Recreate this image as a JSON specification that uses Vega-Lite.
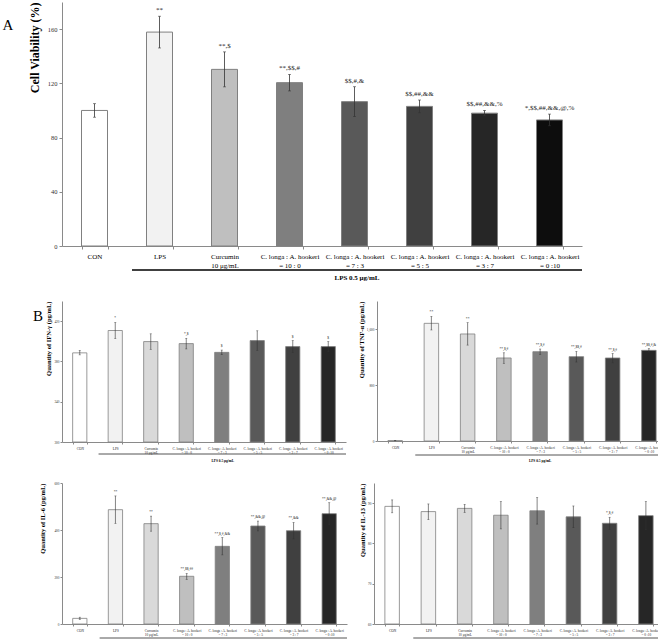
{
  "$schema": "https://vega.github.io/schema/vega-lite/v6.json",
  "padding": {"left": 2, "top": 1, "right": 0, "bottom": 0},
  "background": "white",
  "config": {"view": {"stroke": null}, "font": "Liberation Serif", "axis": {"labelOverlap": false}, "axisY": {"labelOverlap": false}},
  "datasets": {
    "dA": [
      {"g": "CON", "v": 100, "lo": 95, "hi": 105, "s": ""},
      {"g": "LPS", "v": 157.8, "lo": 146.1, "hi": 169.5, "s": "**"},
      {"g": "Curcumin|10 μg/mL", "v": 130.3, "lo": 117.4, "hi": 143.2, "s": "**,$"},
      {"g": "C. longa : A. hookeri|= 10 : 0", "v": 120.5, "lo": 114.4, "hi": 126.6, "s": "**,$$,#"},
      {"g": "C. longa : A. hookeri|= 7 : 3", "v": 106.5, "lo": 95.5, "hi": 117.5, "s": "$$,#,&"},
      {"g": "C. longa : A. hookeri|= 5 : 5", "v": 103, "lo": 98.3, "hi": 107.7, "s": "$$,##,&&"},
      {"g": "C. longa : A. hookeri|= 3 : 7", "v": 98, "lo": 96, "hi": 100, "s": "$$,##,&&,%"},
      {"g": "C. longa : A. hookeri|= 0 :10", "v": 93, "lo": 88.7, "hi": 97.3, "s": "*,$$,##,&&,@,%"}
    ],
    "dIFN": [
      {"g": "CON", "v": 388.5, "lo": 386.5, "hi": 391, "s": ""},
      {"g": "LPS", "v": 410.7, "lo": 402.7, "hi": 418.7, "s": "*"},
      {"g": "Curcumin|10 μg/mL", "v": 399.7, "lo": 392, "hi": 407.4, "s": ""},
      {"g": "C. longa : A. hookeri|= 10 : 0", "v": 397.7, "lo": 392.4, "hi": 403, "s": "*,$"},
      {"g": "C. longa : A. hookeri|= 7 : 3", "v": 389, "lo": 386.7, "hi": 391.3, "s": "$"},
      {"g": "C. longa : A. hookeri|= 5 : 5", "v": 400.7, "lo": 391, "hi": 410.4, "s": ""},
      {"g": "C. longa : A. hookeri|= 3 : 7", "v": 394.7, "lo": 388.7, "hi": 400.7, "s": "$"},
      {"g": "C. longa : A. hookeri|= 0 :10", "v": 394.7, "lo": 389.5, "hi": 399.7, "s": "$"}
    ],
    "dTNF": [
      {"g": "CON", "v": 5, "lo": 3, "hi": 7, "s": ""},
      {"g": "LPS", "v": 1681, "lo": 1586, "hi": 1780, "s": "**"},
      {"g": "Curcumin|10 μg/mL", "v": 1529, "lo": 1370, "hi": 1690, "s": "**"},
      {"g": "C. longa : A. hookeri|= 10 : 0", "v": 1186, "lo": 1110, "hi": 1260, "s": "**,$,#"},
      {"g": "C. longa : A. hookeri|= 7 : 3", "v": 1276, "lo": 1238, "hi": 1314, "s": "**,$,#"},
      {"g": "C. longa : A. hookeri|= 5 : 5", "v": 1205, "lo": 1128, "hi": 1280, "s": "**,$$,#"},
      {"g": "C. longa : A. hookeri|= 3 : 7", "v": 1186, "lo": 1115, "hi": 1250, "s": "**,$,#"},
      {"g": "C. longa : A. hookeri|= 0 :10", "v": 1295, "lo": 1272, "hi": 1320, "s": "**,$$,#,&"}
    ],
    "dIL6": [
      {"g": "CON", "v": 24, "lo": 19, "hi": 29, "s": ""},
      {"g": "LPS", "v": 486.5, "lo": 428, "hi": 545, "s": "**"},
      {"g": "Curcumin|10 μg/mL", "v": 427, "lo": 395, "hi": 459, "s": "**"},
      {"g": "C. longa : A. hookeri|= 10 : 0", "v": 203, "lo": 190, "hi": 215, "s": "**,$$,##"},
      {"g": "C. longa : A. hookeri|= 7 : 3", "v": 330.5, "lo": 294, "hi": 368, "s": "**,$,#,&&"},
      {"g": "C. longa : A. hookeri|= 5 : 5", "v": 417, "lo": 396, "hi": 438, "s": "**,&&,@"},
      {"g": "C. longa : A. hookeri|= 3 : 7", "v": 397, "lo": 362, "hi": 432, "s": "**,&&"},
      {"g": "C. longa : A. hookeri|= 0 :10", "v": 469.5, "lo": 422, "hi": 516, "s": "**,&&,@"}
    ],
    "dIL13": [
      {"g": "CON", "v": 89.2, "lo": 87.6, "hi": 90.8, "s": ""},
      {"g": "LPS", "v": 87.9, "lo": 85.9, "hi": 89.8, "s": ""},
      {"g": "Curcumin|10 μg/mL", "v": 88.7, "lo": 87.7, "hi": 89.7, "s": ""},
      {"g": "C. longa : A. hookeri|= 10 : 0", "v": 87.0, "lo": 83.6, "hi": 90.4, "s": ""},
      {"g": "C. longa : A. hookeri|= 7 : 3", "v": 88.1, "lo": 84.8, "hi": 91.4, "s": ""},
      {"g": "C. longa : A. hookeri|= 5 : 5", "v": 86.6, "lo": 83.9, "hi": 89.3, "s": ""},
      {"g": "C. longa : A. hookeri|= 3 : 7", "v": 85.0, "lo": 83.5, "hi": 86.5, "s": "*,$,#"},
      {"g": "C. longa : A. hookeri|= 0 :10", "v": 86.9, "lo": 83.4, "hi": 90.4, "s": ""}
    ]
  },
  "spacing": 19,
  "align": "none",
  "resolve": {"scale": {"x": "independent", "y": "independent", "fill": "independent"}},
  "vconcat": [
    {
      "width": 520,
      "height": 244,
      "title": {"text": "A", "orient": "left", "anchor": "end", "angle": 0, "font": "Liberation Serif", "fontSize": 15, "fontWeight": "normal", "color": "#000", "offset": 4, "dy": 16},
      "data": {"name": "dA"},
      "encoding": {
        "x": {"field": "g", "type": "nominal", "sort": null,
          "scale": {"paddingInner": 0.6, "paddingOuter": 0.3},
          "axis": {"title": null, "labelExpr": "isString(datum.label) ? split(datum.label, '|') : ''", "labelAngle": 0, "labelFont": "Liberation Serif", "labelFontSize": 7, "labelColor": "#000", "labelLineHeight": 9, "labelPadding": 3, "domainColor": "#8a8a8a", "tickColor": "#8a8a8a", "tickBand": "extent", "tickSize": 3}}
      },
      "layer": [
        {"mark": {"type": "bar", "stroke": "#808080", "strokeWidth": 1},
          "encoding": {
            "y": {"field": "v", "type": "quantitative", "scale": {"domain": [0, 180]},
              "axis": {"title": "Cell Viability (%)", "titleFont": "Liberation Serif", "titleFontSize": 12, "titleFontWeight": "bold", "titleColor": "#000", "titleAnchor": "end", "titlePadding": 6, "labelFont": "Liberation Serif", "labelFontSize": 6.5, "labelColor": "#333", "labelOverlap": false, "values": [0, 20, 40, 60, 80, 100, 120, 140, 160, 180], "grid": false, "domainColor": "#8a8a8a", "tickColor": "#8a8a8a", "tickSize": 3, "labelPadding": 2}},
            "fill": {"field": "g", "type": "nominal", "legend": null, "scale": {"domain": ["CON", "LPS", "Curcumin|10 μg/mL", "C. longa : A. hookeri|= 10 : 0", "C. longa : A. hookeri|= 7 : 3", "C. longa : A. hookeri|= 5 : 5", "C. longa : A. hookeri|= 3 : 7", "C. longa : A. hookeri|= 0 :10"], "range": ["#ffffff", "#f2f2f2", "#bfbfbf", "#7f7f7f", "#595959", "#404040", "#262626", "#0d0d0d"]}}
          }},
        {"mark": {"type": "rule", "color": "#333", "strokeWidth": 0.8},
          "encoding": {"y": {"field": "lo", "type": "quantitative"}, "y2": {"field": "hi"}}},
        {"mark": {"type": "tick", "color": "#333", "thickness": 0.8, "size": 3},
          "encoding": {"y": {"field": "lo", "type": "quantitative"}}},
        {"mark": {"type": "tick", "color": "#333", "thickness": 0.8, "size": 3},
          "encoding": {"y": {"field": "hi", "type": "quantitative"}}},
        {"mark": {"type": "text", "font": "Liberation Serif", "fontSize": 7, "baseline": "bottom", "dy": -3, "color": "#222"},
          "encoding": {"y": {"field": "hi", "type": "quantitative"}, "text": {"field": "s"}}},
        {"data": {"values": [{"t": "LPS 0.5 μg/mL"}]},
          "mark": {"type": "rule", "color": "#000", "strokeWidth": 1.5, "xOffset": -27.5, "x2Offset": 32.5, "yOffset": 24, "y2Offset": 24},
          "encoding": {"x": {"datum": "LPS"}, "x2": {"datum": "C. longa : A. hookeri|= 0 :10"}, "y": {"datum": 0, "type": "quantitative"}}},
        {"data": {"values": [{"t": "LPS 0.5 μg/mL"}]},
          "mark": {"type": "text", "font": "Liberation Serif", "fontSize": 7, "fontWeight": "bold", "color": "#000", "baseline": "middle", "xOffset": 2.5, "yOffset": 32},
          "encoding": {"x": {"datum": "C. longa : A. hookeri|= 7 : 3"}, "y": {"datum": 0, "type": "quantitative"}, "text": {"field": "t"}}}
      ]
    },
    {
      "spacing": 18,
      "align": "none",
      "resolve": {"scale": {"x": "independent", "y": "independent", "fill": "independent"}},
      "vconcat": [
        {
          "spacing": 11,
          "align": "none",
          "resolve": {"scale": {"x": "independent", "y": "independent", "fill": "independent"}},
          "hconcat": [
            {
              "width": 284,
              "height": 141,
              "title": {"text": "B", "orient": "left", "anchor": "end", "angle": 0, "font": "Liberation Serif", "fontSize": 15, "fontWeight": "normal", "color": "#000", "offset": -7, "dy": 8},
              "data": {"name": "dIFN"},
              "encoding": {
                "x": {"field": "g", "type": "nominal", "sort": null,
                  "scale": {"paddingInner": 0.6, "paddingOuter": 0.3},
                  "axis": {"title": null, "labelExpr": "isString(datum.label) ? split(datum.label, '|') : ''", "labelAngle": 0, "labelFont": "Liberation Serif", "labelFontSize": 3.4, "labelColor": "#222", "labelLineHeight": 4.5, "labelPadding": 2, "domainColor": "#8a8a8a", "tickColor": "#8a8a8a", "tickBand": "extent", "tickSize": 2}}
              },
              "layer": [
                {"mark": {"type": "bar", "stroke": "#808080", "strokeWidth": 0.8},
                  "encoding": {
                    "y": {"field": "v", "type": "quantitative", "scale": {"domain": [300, 440], "zero": false},
                      "axis": {"title": "Quantity of IFN-γ (pg/mL)", "titleFont": "Liberation Serif", "titleFontSize": 6.5, "titleFontWeight": "bold", "titleColor": "#000", "titleAnchor": "end", "titlePadding": 2, "labelFont": "Liberation Serif", "labelFontSize": 3.4, "labelColor": "#333", "labelOverlap": false, "values": [300, 320, 340, 360, 380, 400, 420, 440], "grid": false, "domainColor": "#8a8a8a", "tickColor": "#8a8a8a", "tickSize": 2, "labelPadding": 1}},
                    "y2": {"datum": 300},
                    "fill": {"field": "g", "type": "nominal", "legend": null, "scale": {"domain": ["CON", "LPS", "Curcumin|10 μg/mL", "C. longa : A. hookeri|= 10 : 0", "C. longa : A. hookeri|= 7 : 3", "C. longa : A. hookeri|= 5 : 5", "C. longa : A. hookeri|= 3 : 7", "C. longa : A. hookeri|= 0 :10"], "range": ["#ffffff", "#f2f2f2", "#d9d9d9", "#bfbfbf", "#7f7f7f", "#595959", "#404040", "#262626"]}}
                  }},
                {"mark": {"type": "rule", "color": "#333", "strokeWidth": 0.6},
                  "encoding": {"y": {"field": "lo", "type": "quantitative"}, "y2": {"field": "hi"}}},
                {"mark": {"type": "tick", "color": "#333", "thickness": 0.6, "size": 2},
                  "encoding": {"y": {"field": "lo", "type": "quantitative"}}},
                {"mark": {"type": "tick", "color": "#333", "thickness": 0.6, "size": 2},
                  "encoding": {"y": {"field": "hi", "type": "quantitative"}}},
                {"mark": {"type": "text", "font": "Liberation Serif", "fontSize": 3.6, "baseline": "bottom", "dy": -2, "color": "#222"},
                  "encoding": {"y": {"field": "hi", "type": "quantitative"}, "text": {"field": "s"}}},
                {"data": {"values": [{"t": "LPS 0.5 μg/mL"}]},
                  "mark": {"type": "rule", "color": "#555", "strokeWidth": 1, "xOffset": -16.7, "x2Offset": 17.75, "yOffset": 12, "y2Offset": 12},
                  "encoding": {"x": {"datum": "LPS"}, "x2": {"datum": "C. longa : A. hookeri|= 0 :10"}, "y": {"datum": 300, "type": "quantitative"}}},
                {"data": {"values": [{"t": "LPS 0.5 μg/mL"}]},
                  "mark": {"type": "text", "font": "Liberation Serif", "fontSize": 3.5, "fontWeight": "bold", "color": "#000", "baseline": "middle", "xOffset": 1, "yOffset": 18.5},
                  "encoding": {"x": {"datum": "C. longa : A. hookeri|= 7 : 3"}, "y": {"datum": 300, "type": "quantitative"}, "text": {"field": "t"}}}
              ]
            },
            {
              "width": 290,
              "height": 140,
              "data": {"name": "dTNF"},
              "encoding": {
                "x": {"field": "g", "type": "nominal", "sort": null,
                  "scale": {"paddingInner": 0.6, "paddingOuter": 0.3},
                  "axis": {"title": null, "labelExpr": "isString(datum.label) ? split(datum.label, '|') : ''", "labelAngle": 0, "labelFont": "Liberation Serif", "labelFontSize": 3.4, "labelColor": "#222", "labelLineHeight": 4.5, "labelPadding": 2, "domainColor": "#8a8a8a", "tickColor": "#8a8a8a", "tickBand": "extent", "tickSize": 2}}
              },
              "layer": [
                {"mark": {"type": "bar", "stroke": "#808080", "strokeWidth": 0.8},
                  "encoding": {
                    "y": {"field": "v", "type": "quantitative", "scale": {"domain": [0, 2000]},
                      "axis": {"title": "Quantity of TNF-α (pg/mL)", "titleFont": "Liberation Serif", "titleFontSize": 6.5, "titleFontWeight": "bold", "titleColor": "#000", "titleAnchor": "end", "titlePadding": 2, "labelFont": "Liberation Serif", "labelFontSize": 3.4, "labelColor": "#333", "labelOverlap": false, "values": [0, 200, 400, 600, 800, 1000, 1200, 1400, 1600, 1800, 2000], "grid": false, "domainColor": "#8a8a8a", "tickColor": "#8a8a8a", "tickSize": 2, "labelPadding": 1}},
                    "fill": {"field": "g", "type": "nominal", "legend": null, "scale": {"domain": ["CON", "LPS", "Curcumin|10 μg/mL", "C. longa : A. hookeri|= 10 : 0", "C. longa : A. hookeri|= 7 : 3", "C. longa : A. hookeri|= 5 : 5", "C. longa : A. hookeri|= 3 : 7", "C. longa : A. hookeri|= 0 :10"], "range": ["#ffffff", "#f2f2f2", "#d9d9d9", "#bfbfbf", "#7f7f7f", "#595959", "#404040", "#262626"]}}
                  }},
                {"mark": {"type": "rule", "color": "#333", "strokeWidth": 0.6},
                  "encoding": {"y": {"field": "lo", "type": "quantitative"}, "y2": {"field": "hi"}}},
                {"mark": {"type": "tick", "color": "#333", "thickness": 0.6, "size": 2},
                  "encoding": {"y": {"field": "lo", "type": "quantitative"}}},
                {"mark": {"type": "tick", "color": "#333", "thickness": 0.6, "size": 2},
                  "encoding": {"y": {"field": "hi", "type": "quantitative"}}},
                {"mark": {"type": "text", "font": "Liberation Serif", "fontSize": 3.6, "baseline": "bottom", "dy": -2, "color": "#222"},
                  "encoding": {"y": {"field": "hi", "type": "quantitative"}, "text": {"field": "s"}}},
                {"data": {"values": [{"t": "LPS 0.5 μg/mL"}]},
                  "mark": {"type": "rule", "color": "#555", "strokeWidth": 1, "xOffset": -16.1, "x2Offset": 16.1, "yOffset": 14, "y2Offset": 14},
                  "encoding": {"x": {"datum": "LPS"}, "x2": {"datum": "C. longa : A. hookeri|= 0 :10"}, "y": {"datum": 0, "type": "quantitative"}}},
                {"data": {"values": [{"t": "LPS 0.5 μg/mL"}]},
                  "mark": {"type": "text", "font": "Liberation Serif", "fontSize": 3.5, "fontWeight": "bold", "color": "#000", "baseline": "middle", "xOffset": 0, "yOffset": 20},
                  "encoding": {"x": {"datum": "C. longa : A. hookeri|= 7 : 3"}, "y": {"datum": 0, "type": "quantitative"}, "text": {"field": "t"}}}
              ]
            }
          ]
        },
        {
          "spacing": 11,
          "align": "none",
          "resolve": {"scale": {"x": "independent", "y": "independent", "fill": "independent"}},
          "hconcat": [
            {
              "width": 285,
              "height": 141,
              "data": {"name": "dIL6"},
              "encoding": {
                "x": {"field": "g", "type": "nominal", "sort": null,
                  "scale": {"paddingInner": 0.6, "paddingOuter": 0.3},
                  "axis": {"title": null, "labelExpr": "isString(datum.label) ? split(datum.label, '|') : ''", "labelAngle": 0, "labelFont": "Liberation Serif", "labelFontSize": 3.4, "labelColor": "#222", "labelLineHeight": 4.5, "labelPadding": 2, "domainColor": "#8a8a8a", "tickColor": "#8a8a8a", "tickBand": "extent", "tickSize": 2}}
              },
              "layer": [
                {"mark": {"type": "bar", "stroke": "#808080", "strokeWidth": 0.8},
                  "encoding": {
                    "y": {"field": "v", "type": "quantitative", "scale": {"domain": [0, 600]},
                      "axis": {"title": "Quantity of IL-6 (pg/mL)", "titleFont": "Liberation Serif", "titleFontSize": 6.5, "titleFontWeight": "bold", "titleColor": "#000", "titleAnchor": "end", "titlePadding": 8, "labelFont": "Liberation Serif", "labelFontSize": 3.4, "labelColor": "#333", "labelOverlap": false, "values": [0, 100, 200, 300, 400, 500, 600], "grid": false, "domainColor": "#8a8a8a", "tickColor": "#8a8a8a", "tickSize": 2, "labelPadding": 1}},
                    "fill": {"field": "g", "type": "nominal", "legend": null, "scale": {"domain": ["CON", "LPS", "Curcumin|10 μg/mL", "C. longa : A. hookeri|= 10 : 0", "C. longa : A. hookeri|= 7 : 3", "C. longa : A. hookeri|= 5 : 5", "C. longa : A. hookeri|= 3 : 7", "C. longa : A. hookeri|= 0 :10"], "range": ["#ffffff", "#f2f2f2", "#d9d9d9", "#bfbfbf", "#7f7f7f", "#595959", "#404040", "#262626"]}}
                  }},
                {"mark": {"type": "rule", "color": "#333", "strokeWidth": 0.6},
                  "encoding": {"y": {"field": "lo", "type": "quantitative"}, "y2": {"field": "hi"}}},
                {"mark": {"type": "tick", "color": "#333", "thickness": 0.6, "size": 2},
                  "encoding": {"y": {"field": "lo", "type": "quantitative"}}},
                {"mark": {"type": "tick", "color": "#333", "thickness": 0.6, "size": 2},
                  "encoding": {"y": {"field": "hi", "type": "quantitative"}}},
                {"mark": {"type": "text", "font": "Liberation Serif", "fontSize": 3.6, "baseline": "bottom", "dy": -2, "color": "#222"},
                  "encoding": {"y": {"field": "hi", "type": "quantitative"}, "text": {"field": "s"}}},
                {"data": {"values": [{"t": "LPS 0.5μg/mL"}]},
                  "mark": {"type": "rule", "color": "#555", "strokeWidth": 1, "xOffset": -15.8, "x2Offset": 17.8, "yOffset": 14, "y2Offset": 14},
                  "encoding": {"x": {"datum": "LPS"}, "x2": {"datum": "C. longa : A. hookeri|= 0 :10"}, "y": {"datum": 0, "type": "quantitative"}}},
                {"data": {"values": [{"t": "LPS 0.5μg/mL"}]},
                  "mark": {"type": "text", "font": "Liberation Serif", "fontSize": 3.5, "fontWeight": "bold", "color": "#000", "baseline": "middle", "xOffset": 1, "yOffset": 17.5},
                  "encoding": {"x": {"datum": "C. longa : A. hookeri|= 7 : 3"}, "y": {"datum": 0, "type": "quantitative"}, "text": {"field": "t"}}}
              ]
            },
            {
              "width": 290,
              "height": 141,
              "data": {"name": "dIL13"},
              "encoding": {
                "x": {"field": "g", "type": "nominal", "sort": null,
                  "scale": {"paddingInner": 0.6, "paddingOuter": 0.3},
                  "axis": {"title": null, "labelExpr": "isString(datum.label) ? split(datum.label, '|') : ''", "labelAngle": 0, "labelFont": "Liberation Serif", "labelFontSize": 3.4, "labelColor": "#222", "labelLineHeight": 4.5, "labelPadding": 2, "domainColor": "#8a8a8a", "tickColor": "#8a8a8a", "tickBand": "extent", "tickSize": 2}}
              },
              "layer": [
                {"mark": {"type": "bar", "stroke": "#808080", "strokeWidth": 0.8},
                  "encoding": {
                    "y": {"field": "v", "type": "quantitative", "scale": {"domain": [60, 95], "zero": false},
                      "axis": {"title": "Quantity of IL-13 (pg/mL)", "titleFont": "Liberation Serif", "titleFontSize": 6.5, "titleFontWeight": "bold", "titleColor": "#000", "titleAnchor": "end", "titlePadding": 2, "labelFont": "Liberation Serif", "labelFontSize": 3.4, "labelColor": "#333", "labelOverlap": false, "values": [60, 65, 70, 75, 80, 85, 90, 95], "grid": false, "domainColor": "#8a8a8a", "tickColor": "#8a8a8a", "tickSize": 2, "labelPadding": 1}},
                    "y2": {"datum": 60},
                    "fill": {"field": "g", "type": "nominal", "legend": null, "scale": {"domain": ["CON", "LPS", "Curcumin|10 μg/mL", "C. longa : A. hookeri|= 10 : 0", "C. longa : A. hookeri|= 7 : 3", "C. longa : A. hookeri|= 5 : 5", "C. longa : A. hookeri|= 3 : 7", "C. longa : A. hookeri|= 0 :10"], "range": ["#ffffff", "#f2f2f2", "#d9d9d9", "#bfbfbf", "#7f7f7f", "#595959", "#404040", "#262626"]}}
                  }},
                {"mark": {"type": "rule", "color": "#333", "strokeWidth": 0.6},
                  "encoding": {"y": {"field": "lo", "type": "quantitative"}, "y2": {"field": "hi"}}},
                {"mark": {"type": "tick", "color": "#333", "thickness": 0.6, "size": 2},
                  "encoding": {"y": {"field": "lo", "type": "quantitative"}}},
                {"mark": {"type": "tick", "color": "#333", "thickness": 0.6, "size": 2},
                  "encoding": {"y": {"field": "hi", "type": "quantitative"}}},
                {"mark": {"type": "text", "font": "Liberation Serif", "fontSize": 3.6, "baseline": "bottom", "dy": -2, "color": "#222"},
                  "encoding": {"y": {"field": "hi", "type": "quantitative"}, "text": {"field": "s"}}},
                {"data": {"values": [{"t": "LPS 0.5 μg/mL"}]},
                  "mark": {"type": "rule", "color": "#555", "strokeWidth": 1, "xOffset": -15.1, "x2Offset": 18.1, "yOffset": 14, "y2Offset": 14},
                  "encoding": {"x": {"datum": "LPS"}, "x2": {"datum": "C. longa : A. hookeri|= 0 :10"}, "y": {"datum": 60, "type": "quantitative"}}},
                {"data": {"values": [{"t": "LPS 0.5 μg/mL"}]},
                  "mark": {"type": "text", "font": "Liberation Serif", "fontSize": 3.5, "fontWeight": "bold", "color": "#000", "baseline": "middle", "xOffset": 1, "yOffset": 17.5},
                  "encoding": {"x": {"datum": "C. longa : A. hookeri|= 7 : 3"}, "y": {"datum": 60, "type": "quantitative"}, "text": {"field": "t"}}}
              ]
            }
          ]
        }
      ]
    }
  ]
}
